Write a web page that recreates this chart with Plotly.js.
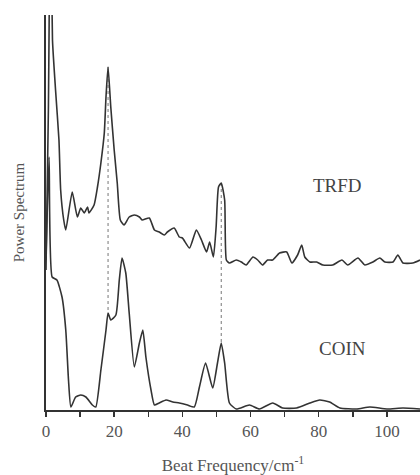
<!DOCTYPE html>
<html>
<head>
<meta charset="utf-8">
<script src="https://cdn.plot.ly/plotly-3.0.1.min.js"></script>
<style>html,body{margin:0;padding:0;background:#fff;}#chart{width:420px;height:475px;}</style>
</head>
<body>
<div id="chart"></div>
<script>
// Beat frequency (cm^-1) and power (arbitrary, offset) for TRFD spectrum
const trfdFreq = [0,0.7,1.3,1.9,2.8,3.8,4.3,5.2,5.8,7.7,9.2,10.2,11.2,12.2,12.6,14.1,15.1,16.1,17.1,17.6,18.2,19.0,20.0,20.9,21.8,22.9,24.4,25.9,27.4,28.2,30.3,31.8,33.2,34.7,35.6,37.6,39.1,40.0,42.1,44.1,45.6,47.1,48.0,49.1,49.9,50.6,51.4,52.4,52.9,53.8,55.8,57.3,58.7,60.7,62.1,63.5,65.0,66.5,68.5,70.6,72.1,73.8,75.0,75.9,77.4,79.4,81.2,84.1,86.8,88.5,91.5,93.5,95.9,97.9,99.4,101.8,103.2,104.7,107.6,109.7];
const trfdPower = [140,300,520,370,320,270,220,190,180,218,193,202,197,203,197,205,223,247,277,313,343,303,260,227,190,185,193,195,193,190,192,180,178,175,178,182,173,172,162,180,170,158,168,153,183,223,227,210,150,147,150,148,145,153,150,145,150,150,157,158,147,155,165,153,148,148,145,145,150,145,152,145,148,152,148,148,155,147,147,150];

// COIN spectrum
const coinFreq = [0,0.9,1.8,3.2,4.7,5.8,6.6,7.3,8.7,10.2,11.7,13.6,14.6,16.1,17.6,18.2,19.0,20.5,21.5,22.3,23.4,24.4,25.9,27.4,28.4,29.3,30.8,31.8,33.2,35.2,37.2,39.1,41.5,43.5,45.0,46.8,48.9,50.3,51.4,52.4,53.8,55.8,59.7,62.6,66.5,69.4,73.5,77.4,80.3,83.2,86.2,91.2,95.0,100,104.7,109.7];
const coinPower = [150,253,133,130,113,80,30,3,13,15,13,5,3,40,80,97,90,95,130,152,137,97,43,67,80,53,20,5,7,10,8,7,5,3,23,47,22,47,67,47,7,1,5,1,7,2,2,7,10,8,2,1,3,1,2,1];

// Frequencies marked by dotted guide lines (shared peaks)
const guideFreq = [18.2, 51.4];

// Tick labels
const tickVals = [0,20,40,60,80,100];
const tickText = ['0','20','40','60','80','100'];

const serif = '"Liberation Serif", "Times New Roman", serif';
const lineColor = '#333';

const traces = [];
guideFreq.forEach(f => {
  const yTop = trfdPower[trfdFreq.indexOf(f)];
  const yBot = coinPower[coinFreq.indexOf(f)];
  traces.push({x:[f,f], y:[yTop,yBot], mode:'lines', hoverinfo:'skip',
    line:{color:'#777', width:1, dash:'dot'}, showlegend:false});
});
traces.push({x:trfdFreq, y:trfdPower, mode:'lines', name:'TRFD',
  line:{color:lineColor, width:1.6, shape:'spline', smoothing:0.5}, showlegend:false});
traces.push({x:coinFreq, y:coinPower, mode:'lines', name:'COIN',
  line:{color:lineColor, width:1.6, shape:'spline', smoothing:0.5}, showlegend:false});

const layout = {
  width:420, height:475,
  margin:{l:46, r:0, t:15, b:65},
  paper_bgcolor:'#fff', plot_bgcolor:'#fff',
  font:{family:serif, color:'#444'},
  xaxis:{
    range:[0,109.7], showline:true, linecolor:'#333', linewidth:2,
    showgrid:false, zeroline:false, ticks:'outside', ticklen:5, tickwidth:1.5, tickcolor:'#333',
    tickmode:'array', tickvals:tickVals, ticktext:tickText,
    minor:{dtick:10, tick0:0, ticks:'outside', ticklen:5, tickwidth:1.5, tickcolor:'#333', showgrid:false},
    tickfont:{family:serif, size:17, color:'#555'},
    title:{text:'Beat Frequency/cm<sup>-1</sup>', font:{family:serif, size:17, color:'#555'}, standoff:20}
  },
  yaxis:{
    range:[0,395], showline:true, linecolor:'#333', linewidth:2,
    showgrid:false, zeroline:false, showticklabels:false, ticks:'',
    title:{text:'Power Spectrum', font:{family:serif, size:15, color:'#555'}, standoff:16}
  },
  annotations:[
    {x:85.6, y:225, xref:'x', yref:'y', text:'TRFD', showarrow:false,
     font:{family:serif, size:19, color:'#444'}},
    {x:87, y:62, xref:'x', yref:'y', text:'COIN', showarrow:false,
     font:{family:serif, size:19, color:'#444'}}
  ]
};

Plotly.newPlot('chart', traces, layout, {displayModeBar:false, staticPlot:true});
</script>
</body>
</html>
